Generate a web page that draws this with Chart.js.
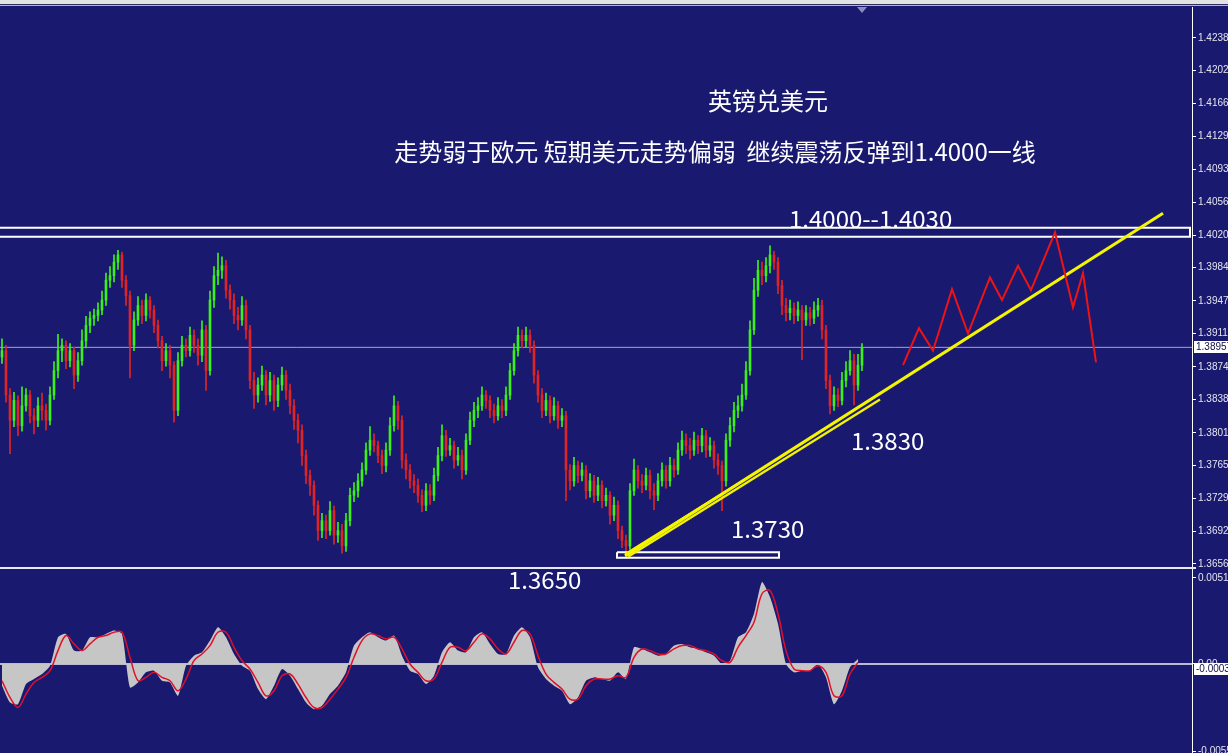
<!DOCTYPE html>
<html><head><meta charset="utf-8">
<script src="https://cdn.jsdelivr.net/npm/chart.js@4/dist/chart.umd.min.js"></script>
<style>
html,body{margin:0;padding:0;background:#191970;overflow:hidden;}
#wrap{position:relative;width:1228px;height:753px;}
canvas{position:absolute;left:0;top:0;}
.s{position:absolute;left:0;width:1228px;}
</style></head><body>
<div id="wrap">
<canvas id="c" width="1228" height="753"></canvas>
<div class="s" style="top:0;height:4px;background:#e2e2e2"></div>
<div class="s" style="top:4px;height:1px;background:#30305e"></div>
<div class="s" style="top:5px;height:1px;background:#b4b4cc"></div>
</div>
<script>
// ---- price data (GBP/USD), one bar per index ----
const opens = [1.3885,1.3892,1.3843,1.3815,1.3837,1.3809,1.3831,1.3843,1.3820,1.3815,
1.3831,1.3826,1.3815,1.3843,1.3870,1.3892,1.3898,1.3881,1.3892,1.3865,
1.3881,1.3903,1.3920,1.3928,1.3931,1.3937,1.3948,1.3970,1.3975,1.3990,
1.3998,1.3970,1.3953,1.3898,1.3926,1.3942,1.3931,1.3948,1.3937,1.3920,
1.3903,1.3881,1.3892,1.3876,1.3826,1.3881,1.3898,1.3892,1.3909,1.3898,
1.3887,1.3915,1.3870,1.3948,1.3975,1.3981,1.3986,1.3959,1.3948,1.3931,
1.3926,1.3942,1.3915,1.3859,1.3843,1.3854,1.3865,1.3843,1.3859,1.3837,
1.3854,1.3865,1.3848,1.3831,1.3815,1.3804,1.3776,1.3754,1.3743,1.3721,
1.3693,1.3704,1.3693,1.3715,1.3688,1.3693,1.3676,1.3704,1.3732,1.3737,
1.3748,1.3760,1.3782,1.3793,1.3787,1.3776,1.3765,1.3782,1.3809,1.3831,
1.3815,1.3771,1.3760,1.3748,1.3743,1.3732,1.3721,1.3737,1.3732,1.3754,
1.3776,1.3798,1.3782,1.3787,1.3771,1.3776,1.3760,1.3793,1.3815,1.3826,
1.3831,1.3843,1.3837,1.3826,1.3820,1.3831,1.3826,1.3843,1.3870,1.3892,
1.3909,1.3903,1.3909,1.3898,1.3865,1.3843,1.3826,1.3837,1.3820,1.3831,
1.3815,1.3820,1.3760,1.3748,1.3765,1.3754,1.3760,1.3737,1.3748,1.3732,
1.3743,1.3726,1.3732,1.3710,1.3721,1.3693,1.3682,1.3676,1.3737,1.3760,
1.3748,1.3743,1.3754,1.3737,1.3732,1.3748,1.3760,1.3748,1.3765,1.3760,
1.3782,1.3793,1.3787,1.3782,1.3793,1.3787,1.3798,1.3782,1.3787,1.3771,
1.3765,1.3748,1.3793,1.3809,1.3826,1.3831,1.3843,1.3870,1.3915,1.3959,
1.3981,1.3975,1.3986,1.3998,1.3990,1.3964,1.3942,1.3934,1.3939,1.3931,
1.3937,1.3926,1.3934,1.3928,1.3937,1.3942,1.3915,1.3859,1.3831,1.3843,
1.3837,1.3859,1.3870,1.3881,1.3854,1.3876];
const closes = [1.3892,1.3843,1.3815,1.3837,1.3809,1.3831,1.3843,1.3820,1.3815,1.3831,
1.3826,1.3815,1.3843,1.3870,1.3892,1.3898,1.3881,1.3892,1.3865,1.3881,
1.3903,1.3920,1.3928,1.3931,1.3937,1.3948,1.3970,1.3975,1.3990,1.3998,
1.3970,1.3953,1.3898,1.3926,1.3942,1.3931,1.3948,1.3937,1.3920,1.3903,
1.3881,1.3892,1.3876,1.3826,1.3881,1.3898,1.3892,1.3909,1.3898,1.3887,
1.3915,1.3870,1.3948,1.3975,1.3981,1.3986,1.3959,1.3948,1.3931,1.3926,
1.3942,1.3915,1.3859,1.3843,1.3854,1.3865,1.3843,1.3859,1.3837,1.3854,
1.3865,1.3848,1.3831,1.3815,1.3804,1.3776,1.3754,1.3743,1.3721,1.3693,
1.3704,1.3693,1.3715,1.3688,1.3693,1.3676,1.3704,1.3732,1.3737,1.3748,
1.3760,1.3782,1.3793,1.3787,1.3776,1.3765,1.3782,1.3809,1.3831,1.3815,
1.3771,1.3760,1.3748,1.3743,1.3732,1.3721,1.3737,1.3732,1.3754,1.3776,
1.3798,1.3782,1.3787,1.3771,1.3776,1.3760,1.3793,1.3815,1.3826,1.3831,
1.3843,1.3837,1.3826,1.3820,1.3831,1.3826,1.3843,1.3870,1.3892,1.3909,
1.3903,1.3909,1.3898,1.3865,1.3843,1.3826,1.3837,1.3820,1.3831,1.3815,
1.3820,1.3760,1.3748,1.3765,1.3754,1.3760,1.3737,1.3748,1.3732,1.3743,
1.3726,1.3732,1.3710,1.3721,1.3693,1.3682,1.3676,1.3737,1.3760,1.3748,
1.3743,1.3754,1.3737,1.3732,1.3748,1.3760,1.3748,1.3765,1.3760,1.3782,
1.3793,1.3787,1.3782,1.3793,1.3787,1.3798,1.3782,1.3787,1.3771,1.3765,
1.3748,1.3793,1.3809,1.3826,1.3831,1.3843,1.3870,1.3915,1.3959,1.3981,
1.3975,1.3986,1.3998,1.3990,1.3964,1.3942,1.3934,1.3939,1.3931,1.3937,
1.3926,1.3934,1.3928,1.3937,1.3942,1.3915,1.3859,1.3831,1.3843,1.3837,
1.3859,1.3870,1.3881,1.3854,1.3876,1.3895];
const highs = [1.3905,1.3898,1.3850,1.3846,1.3842,1.3852,1.3850,1.3848,1.3828,1.3840,
1.3845,1.3833,1.3852,1.3880,1.3910,1.3905,1.3903,1.3900,1.3896,1.3890,
1.3915,1.3930,1.3935,1.3938,1.3945,1.3958,1.3978,1.3985,1.3998,1.4003,
1.4001,1.3975,1.3958,1.3935,1.3952,1.3948,1.3955,1.3952,1.3942,1.3926,
1.3908,1.3900,1.3898,1.3880,1.3890,1.3908,1.3905,1.3918,1.3915,1.3905,
1.3925,1.3920,1.3958,1.3985,1.4000,1.3996,1.3992,1.3965,1.3955,1.3940,
1.3952,1.3948,1.3920,1.3868,1.3862,1.3875,1.3870,1.3868,1.3865,1.3862,
1.3874,1.3870,1.3855,1.3838,1.3822,1.3810,1.3782,1.3760,1.3748,1.3726,
1.3712,1.3710,1.3725,1.3720,1.3702,1.3700,1.3712,1.3740,1.3746,1.3756,
1.3768,1.3790,1.3808,1.3800,1.3792,1.3782,1.3790,1.3818,1.3842,1.3836,
1.3820,1.3778,1.3766,1.3755,1.3750,1.3738,1.3745,1.3744,1.3762,1.3785,
1.3810,1.3804,1.3795,1.3792,1.3785,1.3782,1.3800,1.3824,1.3835,1.3840,
1.3852,1.3848,1.3842,1.3833,1.3840,1.3838,1.3852,1.3878,1.3900,1.3918,
1.3915,1.3918,1.3915,1.3903,1.3870,1.3850,1.3845,1.3842,1.3840,1.3836,
1.3828,1.3825,1.3766,1.3774,1.3770,1.3768,1.3765,1.3756,1.3754,1.3752,
1.3748,1.3740,1.3736,1.3730,1.3726,1.3698,1.3688,1.3745,1.3772,1.3765,
1.3755,1.3762,1.3760,1.3745,1.3756,1.3768,1.3765,1.3774,1.3772,1.3790,
1.3803,1.3800,1.3795,1.3802,1.3798,1.3806,1.3804,1.3796,1.3792,1.3778,
1.3770,1.3800,1.3818,1.3835,1.3842,1.3855,1.3880,1.3925,1.3972,1.3992,
1.3990,1.3995,1.4008,1.4002,1.3995,1.3970,1.3950,1.3948,1.3945,1.3946,
1.3942,1.3942,1.3940,1.3946,1.3950,1.3948,1.3920,1.3865,1.3852,1.3850,
1.3868,1.3880,1.3892,1.3888,1.3888,1.3900];
const lows = [1.3878,1.3835,1.3778,1.3808,1.3798,1.3803,1.3825,1.3812,1.3800,1.3808,
1.3815,1.3804,1.3810,1.3838,1.3862,1.3880,1.3872,1.3874,1.3850,1.3858,
1.3876,1.3895,1.3912,1.3920,1.3925,1.3932,1.3942,1.3962,1.3968,1.3982,
1.3962,1.3942,1.3862,1.3892,1.3920,1.3922,1.3925,1.3928,1.3912,1.3895,
1.3870,1.3875,1.3862,1.3813,1.3820,1.3875,1.3885,1.3886,1.3890,1.3876,
1.3880,1.3848,1.3865,1.3940,1.3965,1.3972,1.3950,1.3938,1.3922,1.3915,
1.3920,1.3905,1.3850,1.3828,1.3835,1.3848,1.3832,1.3836,1.3826,1.3830,
1.3848,1.3838,1.3822,1.3805,1.3790,1.3765,1.3745,1.3732,1.3710,1.3682,
1.3685,1.3684,1.3688,1.3678,1.3680,1.3668,1.3670,1.3698,1.3725,1.3730,
1.3742,1.3755,1.3776,1.3780,1.3768,1.3756,1.3758,1.3776,1.3803,1.3805,
1.3762,1.3750,1.3740,1.3735,1.3724,1.3714,1.3715,1.3722,1.3726,1.3748,
1.3770,1.3775,1.3776,1.3762,1.3765,1.3750,1.3755,1.3788,1.3808,1.3818,
1.3826,1.3828,1.3818,1.3812,1.3815,1.3818,1.3820,1.3838,1.3865,1.3886,
1.3895,1.3896,1.3890,1.3856,1.3835,1.3818,1.3820,1.3812,1.3815,1.3806,
1.3808,1.3726,1.3738,1.3742,1.3746,1.3748,1.3728,1.3730,1.3724,1.3726,
1.3718,1.3720,1.3700,1.3704,1.3684,1.3674,1.3668,1.3672,1.3732,1.3740,
1.3735,1.3738,1.3728,1.3716,1.3726,1.3742,1.3740,1.3742,1.3752,1.3755,
1.3776,1.3778,1.3772,1.3776,1.3778,1.3780,1.3774,1.3775,1.3762,1.3755,
1.3715,1.3742,1.3786,1.3802,1.3818,1.3825,1.3838,1.3865,1.3910,1.3952,
1.3965,1.3968,1.3978,1.3982,1.3955,1.3932,1.3925,1.3926,1.3922,1.3925,
1.3882,1.3920,1.3920,1.3922,1.3930,1.3905,1.3850,1.3822,1.3826,1.3830,
1.3832,1.3852,1.3865,1.3832,1.3848,1.3870];

// ---- oscillator (one value every 2 bars) ----
const oscHist = [-0.0013,-0.0023,-0.0024,-0.0012,-0.0009,-0.0006,-0.0001,0.0016,0.0018,0.0008,
0.0008,0.0016,0.0016,0.0018,0.0020,0.0018,-0.0014,-0.0011,-0.0005,-0.0004,
-0.0010,-0.0011,-0.0019,-0.0001,0.0005,0.0007,0.0014,0.0022,0.0016,0.0006,
-0.0001,-0.0004,-0.0015,-0.0021,-0.0013,-0.0003,-0.0007,-0.0015,-0.0023,-0.0027,
-0.0025,-0.0018,-0.0013,-0.0005,0.0011,0.0016,0.0019,0.0016,0.0014,0.0017,
0.0005,-0.0004,-0.0006,-0.0012,-0.0007,0.0007,0.0013,0.0008,0.0007,0.0016,
0.0019,0.0012,0.0006,0.0006,0.0017,0.0022,0.0016,-0.0002,-0.0009,-0.0013,
-0.0016,-0.0024,-0.0020,-0.0010,-0.0008,-0.0009,-0.0010,-0.0005,-0.0009,0.0010,
0.0009,0.0007,0.0005,0.0006,0.0011,0.0012,0.0010,0.0009,0.0007,0.0005,
0.0000,0.0002,0.0016,0.0019,0.0030,0.0049,0.0040,0.0024,0.0000,-0.0005,
-0.0004,-0.0004,0.0000,-0.0008,-0.0024,-0.0016,-0.0002,0.0003];
const oscSignal = [-0.0010,-0.0020,-0.0026,-0.0018,-0.0011,-0.0008,-0.0004,0.0008,0.0017,0.0012,
0.0008,0.0012,0.0016,0.0017,0.0019,0.0019,0.0004,-0.0010,-0.0008,-0.0005,
-0.0008,-0.0010,-0.0016,-0.0009,0.0002,0.0006,0.0011,0.0019,0.0019,0.0010,
0.0002,-0.0003,-0.0011,-0.0019,-0.0016,-0.0007,-0.0006,-0.0012,-0.0020,-0.0026,
-0.0026,-0.0021,-0.0015,-0.0008,0.0004,0.0014,0.0018,0.0017,0.0015,0.0016,
0.0009,0.0000,-0.0005,-0.0010,-0.0009,0.0001,0.0010,0.0010,0.0008,0.0013,
0.0018,0.0015,0.0009,0.0006,0.0013,0.0020,0.0018,0.0005,-0.0006,-0.0011,
-0.0015,-0.0021,-0.0021,-0.0013,-0.0009,-0.0009,-0.0009,-0.0007,-0.0008,0.0004,
0.0009,0.0008,0.0006,0.0006,0.0009,0.0011,0.0011,0.0009,0.0008,0.0006,
0.0002,0.0001,0.0010,0.0017,0.0025,0.0042,0.0044,0.0030,0.0008,-0.0003,
-0.0004,-0.0004,-0.0001,-0.0005,-0.0019,-0.0019,-0.0006,0.0001];

// ---- axis ticks ----
const priceTicks = [1.4238,1.4202,1.4166,1.4129,1.4093,1.4056,1.4020,1.3984,1.3947,1.3911,1.3874,1.3838,1.3801,1.3765,1.3729,1.3692,1.3656];
const oscTicks = [0.00514, 0, -0.0052];
const oscTickLabels = ['0.00514', '0.00', '-0.0055'];
const currentPrice = 1.38957;
const currentOsc = -0.0003;

// ---- drawn analysis (bar index, price) ----
const zoneTop = [1.4028], zoneBottom = [1.4018], zoneFrom = [-2], zoneTo = [297];
const baseTop = [1.3669], baseBottom = [1.3663], baseFrom = [153.75], baseTo = [194.25];
const trendAX = [155.75, 290.25], trendAY = [1.3665, 1.4044];
const trendBX = [156.5, 219.5], trendBY = [1.3664, 1.3838];
const trendCX = [155.75, 189.5], trendCY = [1.3667, 1.3760];
const pathX = [225.25,229.25,232.75,237.5,241.5,247,250,254,257.25,263.25,267.75,270.25,273.5];
const pathY = [1.3876,1.3917,1.3892,1.3960,1.3911,1.3973,1.3948,1.3986,1.3959,1.4023,1.3940,1.3978,1.3879];
const noteTexts = ['英镑兑美元','走势弱于欧元 短期美元走势偏弱  继续震荡反弹到1.4000一线','1.4000--1.4030','1.3830','1.3730','1.3650'];
const noteX = [191.5, 178.25, 196.75, 212.25, 182.25, 126.5];
const noteY = [1.4168, 1.4112, 1.4038, 1.3792, 1.3695, 1.3638];
const noteAlign = ['center','center','left','left','left','left'];

const UP = '#3cf01a', DOWN = '#e02424';
const barColors = closes.map((c,i)=> c >= opens[i] ? UP : DOWN);
const xy = (xs, ys) => xs.map((x,i)=>({x:x, y:ys[i]}));
const rect = (x0,x1,p0,p1) => [{x:x0,y:p0},{x:x1,y:p0},{x:x1,y:p1},{x:x0,y:p1},{x:x0,y:p0}];
const nBars = closes.length;

const lineDs = (data, color, width, order, axis) => ({
  type:'line', data, yAxisID: axis || 'y', borderColor: color, borderWidth: width,
  pointRadius: 0, fill: false, tension: 0, order
});

const chrome = {
  id: 'chrome',
  afterDatasetsDraw(chart){
    const ctx = chart.ctx, xs = chart.scales.x, ys = chart.scales.y;
    ctx.save();
    ctx.fillStyle = '#ffffff';
    ctx.textBaseline = 'middle';
    ctx.font = '24px "Noto Sans CJK SC", "Noto Sans", sans-serif';
    noteTexts.forEach((t,i)=>{
      ctx.textAlign = noteAlign[i];
      ctx.fillText(t, xs.getPixelForValue(noteX[i]), ys.getPixelForValue(noteY[i]));
    });
    ctx.restore();
  },
  afterDraw(chart){
    const ctx = chart.ctx, ys = chart.scales.y, y2 = chart.scales.y2, xs = chart.scales.x;
    const right = chart.chartArea.right;
    ctx.save();
    ctx.fillStyle = '#e8e8f0';
    ctx.fillRect(0, Math.round(ys.bottom) - 1, right + 4, 2);
    ctx.font = '10px "Liberation Sans", Arial, sans-serif';
    ctx.textBaseline = 'middle';
    ctx.textAlign = 'left';
    const box = (py, txt) => {
      ctx.fillStyle = '#ffffff';
      ctx.fillRect(right + 2, Math.round(py) - 6, 40, 12);
      ctx.fillStyle = '#101040';
      ctx.fillText(txt, right + 4, py);
    };
    box(ys.getPixelForValue(currentPrice), currentPrice.toFixed(5));
    box(y2.getPixelForValue(currentOsc), currentOsc.toFixed(4));
    const tx = xs.getPixelForValue(nBars - 1);
    ctx.fillStyle = '#8c8cc0';
    ctx.beginPath();
    ctx.moveTo(tx - 5, 7); ctx.lineTo(tx + 5, 7); ctx.lineTo(tx, 13); ctx.closePath();
    ctx.fill();
    ctx.restore();
  }
};

function build(){
  new Chart(document.getElementById('c'), {
    type: 'bar',
    data: {
      datasets: [
        lineDs([{x:-1,y:currentPrice},{x:nBars+90,y:currentPrice}], '#a4a4cc', 1, 100),
        lineDs([{x:-1,y:0},{x:nBars+90,y:0}], '#f0f0f0', 1.5, 95, 'y2'),
        { type:'line', data: oscHist.map((v,k)=>({x:k*2, y:v})), yAxisID:'y2',
          borderWidth:0, borderColor:'rgba(0,0,0,0)', backgroundColor:'#c6c6c6',
          fill:'origin', pointRadius:0, tension:0.2, order: 90 },
        { type:'line', data: oscSignal.map((v,k)=>({x:k*2, y:v})), yAxisID:'y2',
          borderWidth:1.5, borderColor:'#e0102a', fill:false, pointRadius:0, tension:0.35, order: 85 },
        { type:'bar', data: highs.map((h,i)=>({x:i, y:[lows[i], h]})), yAxisID:'y',
          backgroundColor: barColors, barThickness: 1, grouped:false, order: 70 },
        { type:'bar', data: opens.map((o,i)=>({x:i, y:[o, closes[i]]})), yAxisID:'y',
          backgroundColor: barColors, barThickness: 2, grouped:false, order: 65 },
        lineDs(rect(zoneFrom[0], zoneTo[0], zoneTop[0], zoneBottom[0]), '#ffffff', 2, 50),
        lineDs(rect(baseFrom[0], baseTo[0], baseTop[0], baseBottom[0]), '#ffffff', 2, 50),
        lineDs(xy(trendBX, trendBY), '#f2f200', 2.5, 42),
        lineDs(xy(trendCX, trendCY), '#f2f200', 2, 41),
        lineDs(xy(trendAX, trendAY), '#f5f500', 3, 40),
        lineDs(xy(pathX, pathY), '#ee1414', 2, 30)
      ]
    },
    options: {
      responsive: false,
      animation: false,
      devicePixelRatio: 1,
      events: [],
      layout: { padding: { top: 7, left: 0, right: 0, bottom: 0 } },
      plugins: { legend: { display: false }, tooltip: { enabled: false } },
      scales: {
        x: { type: 'linear', min: -0.5, max: 297.5, offset: false, display: false },
        y: {
          type: 'linear', position: 'right', stack: 'panes', stackWeight: 561, weight: 0,
          min: 1.365157, max: 1.427229, offset: false,
          grid: { drawOnChartArea: false, drawTicks: true, tickLength: 4, color: '#ffffff' },
          border: { display: true, color: '#ffffff', width: 1 },
          afterBuildTicks: s => { s.ticks = priceTicks.map(v => ({ value: v })); },
          afterFit: s => { s.width = 36; s.paddingTop = 0; s.paddingBottom = 0; },
          ticks: { autoSkip: false, padding: 2, color: '#e4e4ee',
            font: { family: '"Liberation Sans", Arial, sans-serif', size: 10 },
            callback: v => Number(v).toFixed(5) }
        },
        y2: {
          type: 'linear', position: 'right', stack: 'panes', stackWeight: 185, weight: 1,
          min: -0.005319, max: 0.005737, offset: false,
          grid: { drawOnChartArea: false, drawTicks: true, tickLength: 4, color: '#ffffff' },
          border: { display: true, color: '#ffffff', width: 1 },
          afterBuildTicks: s => { s.ticks = oscTicks.map(v => ({ value: v })); },
          afterFit: s => { s.width = 36; s.paddingTop = 0; s.paddingBottom = 0; },
          ticks: { autoSkip: false, padding: 2, color: '#e4e4ee',
            font: { family: '"Liberation Sans", Arial, sans-serif', size: 10 },
            callback: (v, i) => oscTickLabels[i] }
        }
      }
    },
    plugins: [chrome]
  });
}
if (document.fonts && document.fonts.load) {
  document.fonts.load('24px "Noto Sans CJK SC"', '英镑').then(build, build);
} else { build(); }
</script>
</body></html>
